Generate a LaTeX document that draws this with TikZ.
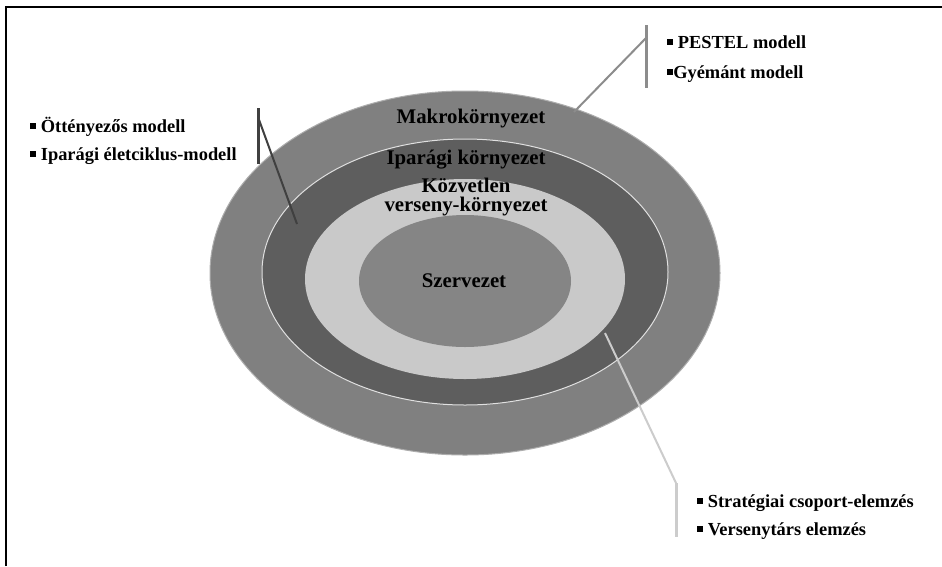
\documentclass[tikz,border=0pt]{standalone}
\usepackage{fontspec}
\setmainfont{Liberation Serif}
\usetikzlibrary{shapes.geometric}
\newcommand{\sqbul}{\rule[0.17em]{0.33em}{0.33em}}
\begin{document}
\begin{tikzpicture}[x=1pt,y=-1pt,
  ring/.style={ellipse, inner sep=0pt, outer sep=0pt},
  ringlabel/.style={font=\fontsize{20.8}{22}\selectfont\bfseries, inner sep=0pt, anchor=base},
  bullet/.style={font=\fontsize{18.4}{20}\selectfont\bfseries, inner sep=0pt, anchor=base west},
  bar/.style={line width=3pt},
  leader/.style={line width=2pt}]
  % canvas and frame
  \useasboundingbox (0,0) rectangle (942,566);
  \fill[white] (0,0) rectangle (942,566);
  \draw[line width=1.8pt] (5.6,566) -- (5.6,6.6) -- (942,6.6);

  % concentric ellipses
  \node[ring, fill=black!50, draw=black!32, line width=1pt,
        minimum width=510, minimum height=364] (macro) at (465,273) {};
  \node[ring, fill=black!63, draw=black!12, line width=1pt,
        minimum width=406, minimum height=266] (ind) at (465,272) {};
  \node[ring, fill=black!21,
        minimum width=320, minimum height=200] (comp) at (465,279) {};
  \node[ring, fill=black!48,
        minimum width=212, minimum height=132] (org) at (465,281) {};

  % ring labels
  \node[ringlabel] (lmacro) at (471,123) {Makrokörnyezet};
  \node[ringlabel] (lind) at (466,164) {Iparági környezet};
  \node[ringlabel] (lcomp1) at (466,192) {Közvetlen};
  \node[ringlabel] (lcomp2) at (466,211) {verseny-környezet};
  \node[ringlabel] (lorg) at (464,287) {Szervezet};

  % macro environment models
  \coordinate (pbarT) at (646,25);
  \coordinate (pbarB) at (646,88);
  \coordinate (pjoin) at (646,38);
  \coordinate (pend) at (574,112);
  \draw[bar, black!45] (pbarT) -- (pbarB);
  \draw[leader, black!45] (pjoin) -- (pend);
  \node[bullet] (pestel) at (667,48) {\sqbul\ PESTEL modell};
  \node[bullet] (gyem) at (667,78) {\sqbul Gyémánt modell};

  % industry environment models
  \coordinate (ibarT) at (258,108);
  \coordinate (ibarB) at (258,164);
  \coordinate (ijoin) at (258,117);
  \coordinate (iend) at (297,224);
  \draw[bar, black!75] (ibarT) -- (ibarB);
  \draw[leader, black!75] (ijoin) -- (iend);
  \node[bullet] (otteny) at (30,132) {\sqbul\ Öttényezős modell};
  \node[bullet] (eletc) at (30,160) {\sqbul\ Iparági életciklus-modell};

  % competitive environment models
  \coordinate (cstart) at (605,333);
  \coordinate (cbarT) at (676,483);
  \coordinate (cbarB) at (676,537);
  \draw[leader, black!20] (cstart) -- (cbarT);
  \draw[bar, black!20] (cbarT) -- (cbarB);
  \node[bullet] (strat) at (697,507) {\sqbul\ Stratégiai csoport-elemzés};
  \node[bullet] (verseny) at (697,535) {\sqbul\ Versenytárs elemzés};
\end{tikzpicture}
\end{document}
